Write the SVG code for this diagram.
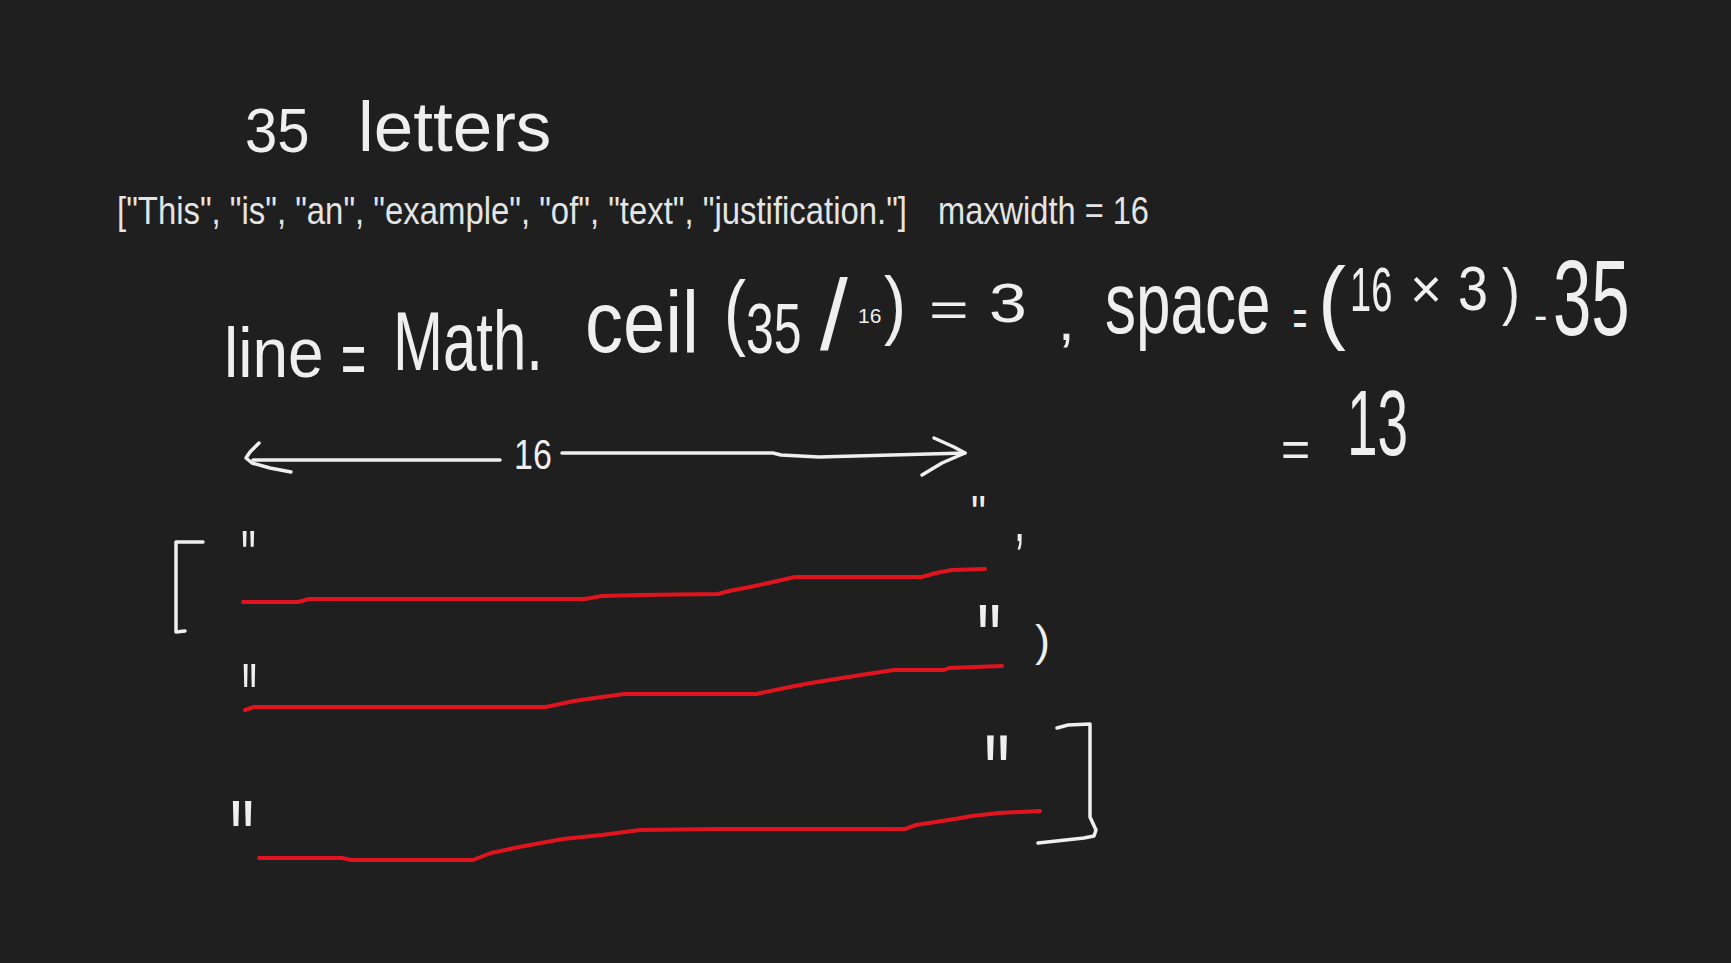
<svg xmlns="http://www.w3.org/2000/svg" width="1731" height="963" viewBox="0 0 1731 963">
<style>
.hw{font-family:"Liberation Sans","DejaVu Sans",sans-serif;fill:#efefef}
.ty{font-family:"Liberation Sans","DejaVu Sans",sans-serif;fill:#e4e4e4}
.ws{fill:none;stroke:#efefef;stroke-width:3.5;stroke-linecap:round;stroke-linejoin:round}
.rs{fill:none;stroke:#e0141f;stroke-width:4;stroke-linecap:round;stroke-linejoin:round}
</style>
<rect width="1731" height="963" fill="#1f1f1f"/>
<g id="title">
<text class="hw" transform="translate(245,152) scale(1,1.08)" font-size="58">35</text>
<text class="hw" transform="translate(358,151)" font-size="71">letters</text>
</g>
<g id="input">
<text class="ty" transform="translate(117,224) scale(1,1.18)" font-size="33" textLength="790" lengthAdjust="spacingAndGlyphs">["This", "is", "an", "example", "of", "text", "justification."]</text>
<text class="ty" transform="translate(938,224) scale(1,1.18)" font-size="32.5" textLength="211" lengthAdjust="spacingAndGlyphs">maxwidth = 16</text>
</g>
<g id="formula-lines">
<text class="hw" transform="translate(224,377) scale(1,1.1)" font-size="64">line</text>
<text class="hw" transform="translate(341,385) scale(1,1.8)" font-size="43">=</text>
<text class="hw" transform="translate(393,370) scale(1,1.4)" font-size="60">Math.</text>
<text class="hw" transform="translate(585,352) scale(1,1.15)" font-size="76">ceil</text>
<text class="hw" transform="translate(724,340) scale(1,1.25)" font-size="66">(</text>
<text class="hw" transform="translate(746,353) scale(1,1.42)" font-size="50">35</text>
<text class="hw" transform="translate(820,350)" font-size="100">/</text>
<text class="hw" transform="translate(858,323)" font-size="21">16</text>
<text class="hw" transform="translate(884,330) scale(1,1.15)" font-size="66">)</text>
<text class="hw" transform="translate(929,326) scale(1,0.7)" font-size="68">=</text>
<text class="hw" transform="translate(989,322) scale(1,0.82)" font-size="68">3</text>
<text class="hw" transform="translate(1058,340)" font-size="60">,</text>
</g>
<g id="formula-space">
<text class="hw" transform="translate(1105,333) scale(1,1.4)" font-size="62">space</text>
<text class="hw" transform="translate(1293,336) scale(1,2.2)" font-size="24">=</text>
<text class="hw" transform="translate(1318,332) scale(1,1.1)" font-size="84">(</text>
<text class="hw" transform="translate(1350,311) scale(1,1.65)" font-size="38">16</text>
<text class="hw" transform="translate(1410,308)" font-size="55">×</text>
<text class="hw" transform="translate(1458,310) scale(1,1.15)" font-size="54">3</text>
<text class="hw" transform="translate(1502,313) scale(1,1.15)" font-size="54">)</text>
<text class="hw" transform="translate(1534,329)" font-size="40">-</text>
<text class="hw" transform="translate(1553,335) scale(1,1.55)" font-size="69">35</text>
<text class="hw" transform="translate(1281,466)" font-size="50">=</text>
<text class="hw" transform="translate(1347,455) scale(1,1.7)" font-size="55">13</text>
</g>
<g id="width-arrow">
<polyline class="ws" points="253,460 500,460"/>
<polyline class="ws" points="562,453 773,453 781,455 819,457 965,453"/>
<polyline class="ws" points="259,443 250,452 246,458 252,463 270,468 291,472"/>
<polyline class="ws" points="934,438 954,447 965,453 942,463 922,475"/>
<text class="hw" transform="translate(514,469) scale(1,1.27)" font-size="34">16</text>
</g>
<g id="brackets">
<polyline class="ws" points="203,542 176,542 176,632 185,631"/>
<polyline class="ws" points="1057,728 1068,725 1090,724 1090,817 1096,830 1094,836 1084,838 1038,843"/>
</g>
<g id="row1">
<text class="hw" transform="translate(241,581) scale(1,1.7)" font-size="42">"</text>
<polyline class="rs" points="243,602 298,602 309,599 342,599 585,599 602,596 640,595 718,594 729,591 750,587 773,582 795,577 922,577 936,573 952,570 985,569"/>
<text class="hw" transform="translate(971,531) scale(1,1.2)" font-size="42">"</text>
<text class="hw" transform="translate(1014,541) scale(1,1.6)" font-size="40">,</text>
</g>
<g id="row2">
<text class="hw" transform="translate(242,737) scale(1,2.5)" font-size="42">"</text>
<polyline class="rs" points="245,710 254,707 546,707 574,701 602,697 624,694 756,694 795,686 811,683 861,675 894,670 944,670 949,668 1002,666"/>
<text class="hw" transform="translate(977,675) scale(1,1.5)" font-size="68">"</text>
<text class="hw" transform="translate(1035,656)" font-size="45">)</text>
</g>
<g id="row3">
<text class="hw" transform="translate(230,880) scale(1,1.7)" font-size="68">"</text>
<polyline class="rs" points="259,858 342,858 351,860 473,860 491,853 519,847 541,843 563,839 602,835 640,830 718,829 905,829 916,825 955,819 972,816 999,813 1040,811"/>
<text class="hw" transform="translate(984,813) scale(1,1.55)" font-size="73">"</text>
</g>
</svg>
